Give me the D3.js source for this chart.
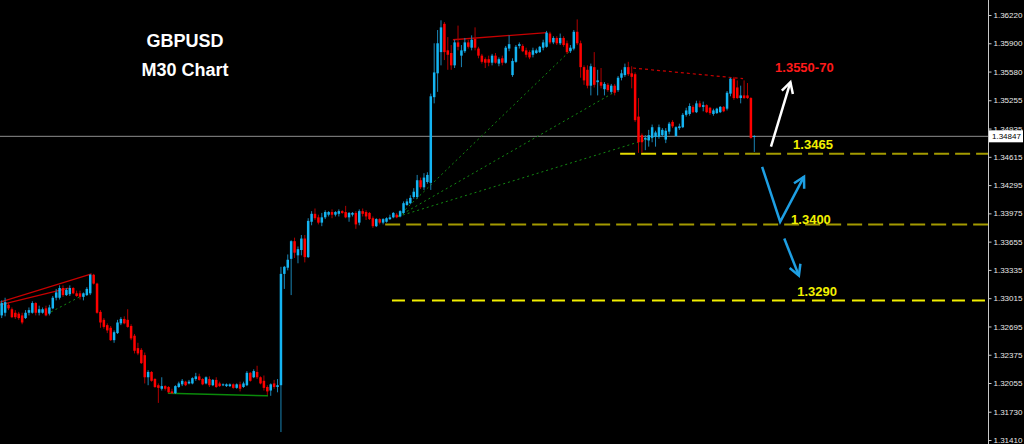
<!DOCTYPE html>
<html><head><meta charset="utf-8">
<script src="https://cdn.jsdelivr.net/npm/d3@7"></script>
<style>html,body{margin:0;padding:0;background:#000;overflow:hidden}</style>
</head><body><svg id="c" width="1024" height="444"></svg>
<script>
const opens=[1.3282,1.3285,1.3294,1.3289,1.3285,1.3284,1.3282,1.3279,1.3285,1.3285,
1.3296,1.3285,1.3285,1.3290,1.3284,1.3290,1.3302,1.3302,1.3313,1.3305,
1.3306,1.3313,1.3307,1.3307,1.3303,1.3305,1.3307,1.3328,1.3318,1.3286,
1.3277,1.3271,1.3268,1.3254,1.3262,1.3273,1.3278,1.3277,1.3270,1.3259,
1.3245,1.3243,1.3237,1.3212,1.3218,1.3210,1.3203,1.3199,1.3202,1.3201,
1.3196,1.3194,1.3201,1.3204,1.3207,1.3205,1.3205,1.3210,1.3213,1.3210,
1.3205,1.3210,1.3203,1.3209,1.3205,1.3203,1.3202,1.3202,1.3204,1.3200,
1.3204,1.3201,1.3203,1.3217,1.3212,1.3218,1.3212,1.3208,1.3201,1.3197,
1.3205,1.3201,1.3203,1.3329,1.3336,1.3346,1.3366,1.3350,1.3356,1.3369,
1.3348,1.3388,1.3397,1.3393,1.3387,1.3393,1.3396,1.3399,1.3396,1.3397,
1.3400,1.3399,1.3393,1.3396,1.3398,1.3387,1.3400,1.3399,1.3398,1.3392,
1.3383,1.3391,1.3387,1.3388,1.3391,1.3393,1.3396,1.3394,1.3398,1.3407,
1.3409,1.3416,1.3416,1.3435,1.3427,1.3433,1.3432,1.3529,1.3556,1.3580,
1.3612,1.3582,1.3579,1.3565,1.3591,1.3576,1.3581,1.3591,1.3585,1.3595,
1.3584,1.3576,1.3572,1.3572,1.3568,1.3576,1.3567,1.3573,1.3568,1.3584,
1.3554,1.3569,1.3587,1.3587,1.3582,1.3580,1.3577,1.3579,1.3580,1.3585,
1.3586,1.3601,1.3591,1.3596,1.3590,1.3596,1.3590,1.3581,1.3584,1.3603,
1.3590,1.3563,1.3560,1.3542,1.3563,1.3546,1.3546,1.3538,1.3543,1.3535,
1.3542,1.3537,1.3551,1.3554,1.3563,1.3556,1.3555,1.3507,1.3486,1.3481,
1.3480,1.3483,1.3484,1.3484,1.3486,1.3481,1.3490,1.3501,1.3485,1.3494,
1.3495,1.3509,1.3510,1.3518,1.3512,1.3522,1.3518,1.3520,1.3517,1.3510,
1.3511,1.3512,1.3518,1.3516,1.3533,1.3550,1.3540,1.3528,1.3531,1.3531,
1.3528,1.3484];
const highs=[1.3299,1.3302,1.3296,1.3291,1.3288,1.3286,1.3285,1.3288,1.3291,1.3298,
1.3297,1.3293,1.3291,1.3293,1.3294,1.3304,1.3312,1.3316,1.3316,1.3313,
1.3316,1.3314,1.3310,1.3310,1.3308,1.3314,1.3329,1.3329,1.3319,1.3288,
1.3279,1.3273,1.3270,1.3265,1.3277,1.3280,1.3281,1.3289,1.3272,1.3261,
1.3251,1.3245,1.3240,1.3220,1.3219,1.3211,1.3205,1.3212,1.3203,1.3202,
1.3199,1.3203,1.3207,1.3210,1.3208,1.3209,1.3212,1.3217,1.3216,1.3211,
1.3213,1.3213,1.3210,1.3212,1.3207,1.3205,1.3205,1.3205,1.3205,1.3205,
1.3207,1.3207,1.3219,1.3218,1.3221,1.3225,1.3213,1.3214,1.3203,1.3205,
1.3209,1.3210,1.3337,1.3338,1.3351,1.3367,1.3370,1.3360,1.3373,1.3373,
1.3392,1.3400,1.3403,1.3396,1.3398,1.3401,1.3400,1.3402,1.3400,1.3402,
1.3401,1.3406,1.3399,1.3399,1.3400,1.3402,1.3403,1.3401,1.3399,1.3394,
1.3392,1.3392,1.3392,1.3393,1.3396,1.3399,1.3398,1.3401,1.3411,1.3414,
1.3418,1.3426,1.3441,1.3438,1.3443,1.3444,1.3533,1.3590,1.3605,1.3616,
1.3614,1.3597,1.3588,1.3594,1.3610,1.3588,1.3596,1.3594,1.3599,1.3608,
1.3586,1.3578,1.3574,1.3576,1.3578,1.3579,1.3574,1.3576,1.3587,1.3599,
1.3573,1.3588,1.3591,1.3589,1.3585,1.3582,1.3585,1.3584,1.3587,1.3594,
1.3604,1.3603,1.3598,1.3598,1.3601,1.3598,1.3593,1.3588,1.3605,1.3617,
1.3593,1.3565,1.3565,1.3567,1.3580,1.3560,1.3562,1.3546,1.3545,1.3544,
1.3544,1.3553,1.3560,1.3567,1.3569,1.3564,1.3557,1.3528,1.3488,1.3486,
1.3492,1.3498,1.3491,1.3498,1.3494,1.3494,1.3501,1.3503,1.3496,1.3499,
1.3511,1.3517,1.3522,1.3520,1.3525,1.3525,1.3524,1.3521,1.3518,1.3516,
1.3517,1.3519,1.3519,1.3536,1.3551,1.3552,1.3548,1.3542,1.3548,1.3545,
1.3529,1.3486];
const lows=[1.3279,1.3281,1.3288,1.3279,1.3278,1.3277,1.3272,1.3278,1.3282,1.3284,
1.3282,1.3282,1.3284,1.3281,1.3282,1.3289,1.3299,1.3300,1.3303,1.3304,
1.3304,1.3306,1.3303,1.3300,1.3299,1.3304,1.3305,1.3317,1.3284,1.3268,
1.3267,1.3262,1.3253,1.3251,1.3261,1.3271,1.3272,1.3268,1.3254,1.3239,
1.3237,1.3227,1.3205,1.3203,1.3207,1.3200,1.3183,1.3197,1.3197,1.3194,
1.3193,1.3193,1.3200,1.3202,1.3202,1.3204,1.3204,1.3208,1.3208,1.3203,
1.3204,1.3201,1.3202,1.3200,1.3201,1.3202,1.3201,1.3201,1.3199,1.3199,
1.3196,1.3200,1.3202,1.3207,1.3211,1.3210,1.3204,1.3197,1.3192,1.3191,
1.3199,1.3195,1.3150,1.3312,1.3333,1.3305,1.3347,1.3341,1.3350,1.3342,
1.3347,1.3384,1.3390,1.3385,1.3383,1.3391,1.3394,1.3392,1.3394,1.3394,
1.3397,1.3392,1.3388,1.3394,1.3380,1.3384,1.3394,1.3390,1.3390,1.3381,
1.3382,1.3385,1.3385,1.3387,1.3390,1.3392,1.3392,1.3393,1.3397,1.3406,
1.3408,1.3414,1.3414,1.3425,1.3424,1.3431,1.3424,1.3522,1.3535,1.3565,
1.3571,1.3560,1.3560,1.3562,1.3582,1.3563,1.3579,1.3584,1.3582,1.3582,
1.3573,1.3567,1.3562,1.3564,1.3565,1.3567,1.3564,1.3565,1.3567,1.3581,
1.3552,1.3568,1.3584,1.3580,1.3574,1.3572,1.3574,1.3578,1.3579,1.3582,
1.3585,1.3589,1.3589,1.3588,1.3588,1.3586,1.3578,1.3579,1.3582,1.3588,
1.3551,1.3543,1.3539,1.3531,1.3540,1.3531,1.3539,1.3531,1.3535,1.3533,
1.3531,1.3535,1.3548,1.3552,1.3553,1.3539,1.3501,1.3466,1.3466,1.3469,
1.3473,1.3478,1.3473,1.3482,1.3484,1.3477,1.3487,1.3494,1.3484,1.3492,
1.3494,1.3507,1.3508,1.3511,1.3511,1.3517,1.3513,1.3511,1.3509,1.3508,
1.3510,1.3511,1.3512,1.3514,1.3530,1.3526,1.3527,1.3522,1.3527,1.3527,
1.3482,1.3467];
const closes=[1.3296,1.3297,1.3290,1.3280,1.3280,1.3279,1.3274,1.3285,1.3288,1.3296,
1.3285,1.3289,1.3289,1.3282,1.3291,1.3302,1.3308,1.3313,1.3305,1.3311,
1.3313,1.3307,1.3304,1.3303,1.3307,1.3312,1.3328,1.3318,1.3285,1.3274,
1.3269,1.3265,1.3254,1.3263,1.3274,1.3278,1.3273,1.3269,1.3256,1.3242,
1.3239,1.3228,1.3212,1.3218,1.3208,1.3201,1.3200,1.3202,1.3199,1.3195,
1.3194,1.3202,1.3205,1.3208,1.3203,1.3207,1.3211,1.3213,1.3209,1.3204,
1.3212,1.3203,1.3209,1.3201,1.3202,1.3204,1.3204,1.3204,1.3200,1.3204,
1.3199,1.3205,1.3217,1.3208,1.3219,1.3212,1.3205,1.3200,1.3196,1.3204,
1.3201,1.3203,1.3329,1.3337,1.3345,1.3366,1.3353,1.3357,1.3369,1.3348,
1.3389,1.3397,1.3392,1.3387,1.3393,1.3399,1.3399,1.3396,1.3399,1.3400,
1.3398,1.3393,1.3398,1.3398,1.3385,1.3400,1.3397,1.3394,1.3391,1.3383,
1.3391,1.3387,1.3391,1.3392,1.3393,1.3398,1.3393,1.3400,1.3409,1.3411,
1.3415,1.3422,1.3435,1.3427,1.3438,1.3441,1.3530,1.3557,1.3590,1.3608,
1.3580,1.3577,1.3565,1.3591,1.3586,1.3582,1.3591,1.3586,1.3594,1.3585,
1.3576,1.3569,1.3568,1.3568,1.3576,1.3568,1.3572,1.3568,1.3585,1.3589,
1.3570,1.3586,1.3589,1.3581,1.3577,1.3574,1.3582,1.3582,1.3586,1.3591,
1.3602,1.3591,1.3596,1.3590,1.3596,1.3588,1.3580,1.3585,1.3603,1.3590,
1.3563,1.3548,1.3542,1.3564,1.3543,1.3548,1.3542,1.3544,1.3537,1.3542,
1.3534,1.3551,1.3556,1.3563,1.3555,1.3552,1.3503,1.3478,1.3478,1.3483,
1.3486,1.3495,1.3489,1.3495,1.3492,1.3491,1.3499,1.3496,1.3495,1.3496,
1.3509,1.3514,1.3519,1.3512,1.3522,1.3518,1.3520,1.3512,1.3511,1.3514,
1.3516,1.3518,1.3513,1.3534,1.3550,1.3528,1.3528,1.3531,1.3528,1.3528,
1.3483,1.3485];

const tickLabels=["1.36220","1.35900","1.35580","1.35255","1.34935","1.34615","1.34295","1.33975",
"1.33655","1.33335","1.33015","1.32695","1.32375","1.32055","1.31730","1.31410"];
const currentPrice=1.34847;
const titleLines=["GBPUSD","M30 Chart"];

// trend lines: bar index / price
const redLines=[[-0.5,1.3297,26.4,1.3329],[-0.5,1.3294,19.6,1.3313],[132.5,1.3594,160.1,1.3602]];
const redDotted=[[185.4,1.3562,217.7,1.3550]];
const greenDotted=[[14.5,1.3286,23.9,1.3305],[116.4,1.3394,168.4,1.3587],[116.4,1.3394,180.1,1.3535],[116.4,1.3394,191,1.3483]];
const greenSolid=[[48.8,1.3194,78.2,1.3191]];
const levelPrices=[1.3465,1.3465,1.3385,1.3299];
const levelStart=[181.6,199.8,112.6,114.6];
const levelEnd=[199.2,289.7,289.7,289.7];
const levelColors=["#e6dc00","#a39a00","#a39a00","#f2ee00"];
const labelTexts=["1.3550-70","1.3465","1.3400","1.3290"];
const labelIdx=[227.1,232.4,231.8,233.6];
const labelPrice=[1.3557,1.3470,1.3386,1.3304];
const labelColors=["#ff1a1a","#f2f000","#f2f000","#f2f000"];
const arrowWhite=[[225.9,1.3473],[231.6,1.3546]];
const arrowBlueV=[[223.3,1.3450],[228.6,1.3388],[235.6,1.3439]];
const arrowBlueDown=[[229.8,1.3369],[234.1,1.3327]];

const W=1024,H=444,axisX=988;
const svg=d3.select("#c");
svg.append("rect").attr("width",W).attr("height",H).attr("fill","#000");

const x=d3.scaleLinear().domain([0,opens.length-1]).range([1.7,754.3]);
const y=d3.scaleLinear().domain([1.3141,1.3622]).range([440,15]);

// current price line
svg.append("line").attr("x1",0).attr("x2",axisX).attr("y1",y(currentPrice)).attr("y2",y(currentPrice))
  .attr("stroke","#8f8f8f").attr("stroke-width",1);

// level lines
levelPrices.forEach((p,i)=>{
  svg.append("line").attr("x1",x(levelStart[i])).attr("x2",x(levelEnd[i]))
    .attr("y1",y(p)).attr("y2",y(p)).attr("stroke",levelColors[i]).attr("stroke-width",2)
    .attr("stroke-dasharray",i===3?"13,7":"15,6");
});

function seg(arr,color,w,dash){
  arr.forEach(s=>{
    const l=svg.append("line").attr("x1",x(s[0])).attr("y1",y(s[1])).attr("x2",x(s[2])).attr("y2",y(s[3]))
      .attr("stroke",color).attr("stroke-width",w);
    if(dash) l.attr("stroke-dasharray",dash);
  });
}
seg(greenDotted,"#138a13",1,"2,3");
seg(greenSolid,"#0a8a0a",1.5,null);
seg(redLines,"#c80000",1.3,null);
seg(redDotted,"#c80000",1.2,"3,3");

// candles
const idx=d3.range(opens.length);
const g=svg.append("g");
g.selectAll("line.w").data(idx).join("line").attr("class","w")
  .attr("x1",i=>x(i)).attr("x2",i=>x(i)).attr("y1",i=>y(highs[i])).attr("y2",i=>y(lows[i]))
  .attr("stroke",i=>closes[i]>=opens[i]?"#1a84b4":"#b00000").attr("stroke-width",1);
g.selectAll("rect.b").data(idx).join("rect").attr("class","b")
  .attr("x",i=>x(i)-1.25).attr("width",2.5)
  .attr("y",i=>y(Math.max(opens[i],closes[i])))
  .attr("height",i=>Math.max(1,Math.abs(y(opens[i])-y(closes[i]))))
  .attr("fill",i=>closes[i]>=opens[i]?"#14b4f2":"#ff0000");

// arrows
function arrow(pts,color){
  const P=pts.map(d=>[x(d[0]),y(d[1])]);
  svg.append("path").attr("d",d3.line()(P)).attr("fill","none").attr("stroke",color)
    .attr("stroke-width",2.5).attr("stroke-linejoin","miter");
  const a=P[P.length-1],b=P[P.length-2];
  const ang=Math.atan2(a[1]-b[1],a[0]-b[0]);
  const L=12,s=0.5;
  const h1=[a[0]-L*Math.cos(ang-s),a[1]-L*Math.sin(ang-s)];
  const h2=[a[0]-L*Math.cos(ang+s),a[1]-L*Math.sin(ang+s)];
  svg.append("path").attr("d",d3.line()([h1,a,h2])).attr("fill","none").attr("stroke",color)
    .attr("stroke-width",2.5);
}
arrow(arrowWhite,"#ffffff");
arrow(arrowBlueV,"#1e9fe3");
arrow(arrowBlueDown,"#1e9fe3");

// labels
labelTexts.forEach((t,i)=>{
  svg.append("text").attr("x",x(labelIdx[i])).attr("y",y(labelPrice[i])).text(t)
    .attr("fill",labelColors[i]).attr("font-family","Liberation Sans, Arial, sans-serif")
    .attr("font-weight","bold").attr("font-size",13);
});

// title
titleLines.forEach((t,i)=>{
  svg.append("text").attr("x",185).attr("y",i===0?47:76).attr("text-anchor","middle").text(t)
    .attr("fill","#fff").attr("font-family","Liberation Sans, Arial, sans-serif")
    .attr("font-weight","bold").attr("font-size",18);
});

// axis
svg.append("line").attr("x1",axisX+0.5).attr("x2",axisX+0.5).attr("y1",0).attr("y2",H)
  .attr("stroke","#c8c8c8").attr("stroke-width",1);
const axis=d3.axisRight(y).tickValues(tickLabels.map(Number)).tickSize(3).tickPadding(2)
  .tickSizeOuter(0).tickFormat((d,i)=>tickLabels[i]);
const ag=svg.append("g").attr("transform",`translate(${axisX+0.5},0)`).call(axis);
ag.select(".domain").remove();
ag.selectAll(".tick line").attr("stroke","#c8c8c8");
ag.selectAll(".tick text").attr("fill","#e8e8e8").attr("font-family","Liberation Sans, Arial, sans-serif").attr("font-size",8);

// current price box
const cy=y(currentPrice);
svg.append("rect").attr("x",axisX+1).attr("y",cy-6).attr("width",34).attr("height",12).attr("fill","#fff");
svg.append("text").attr("x",axisX+4).attr("y",cy+3).text(currentPrice.toFixed(5))
  .attr("fill","#000").attr("font-family","Liberation Sans, Arial, sans-serif").attr("font-size",8);
</script></body></html>
